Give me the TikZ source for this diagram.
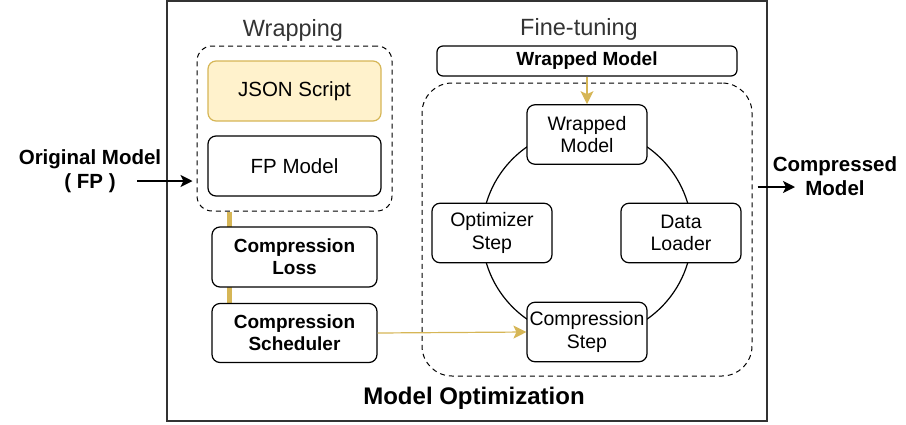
\documentclass[tikz,border=0pt]{standalone}
\usepackage{fontspec}
\setmainfont{Liberation Sans}
\usetikzlibrary{arrows.meta}
\definecolor{goldline}{HTML}{D6B656}
\definecolor{goldfill}{HTML}{FFF2CC}
\definecolor{labelgray}{HTML}{333333}

\begin{document}
\begin{tikzpicture} [
    x=1pt, y=-1pt,
    block/.style    = { rectangle, draw, line width=1.2pt, rounded corners=8pt,
                        fill=white, align=center, inner sep=0pt,
                        font=\fontsize{20.5}{23.5}\selectfont },
    boldblock/.style = { block, font=\bfseries\fontsize{19}{22}\selectfont },
    stepblock/.style = { block, minimum width=120pt, minimum height=59.5pt,
                        font=\fontsize{19.5}{22.5}\selectfont },
    group/.style    = { rectangle, draw, line width=1pt, dash pattern=on 5pt off 4pt },
    title/.style    = { text=labelgray, font=\fontsize{23.5}{26}\selectfont },
    outlabel/.style = { align=center, font=\bfseries\fontsize{20.5}{23.5}\selectfont },
    line/.style     = { draw, line width=1.2pt, -{Stealth[length=12pt,width=12pt,inset=3pt]} },
    goldarrow/.style = { draw=goldline, line width=1.2pt,
                        -{Stealth[length=13pt,width=13pt,inset=3pt]} },
  ]
  \useasboundingbox (0,0) rectangle (906,424);

  % outer frame
  \draw[line width=1.2pt, draw=black!80] (167,1) rectangle (767,421);
  \node[font=\bfseries\fontsize{24}{27}\selectfont] (optim) at (474,398) {Model Optimization};

  % Define nodes: wrapping
  \node[title] (wraptitle) at (293,30) {Wrapping};
  \node[group, rounded corners=15pt, minimum width=195pt, minimum height=165pt] (wrap) at (294.5,128.5) {};
  \node[block, draw=goldline, fill=goldfill, minimum width=173pt, minimum height=60pt] (json) at (294.5,91) {JSON Script};
  \node[block, minimum width=173pt, minimum height=60pt] (fp) at (294.5,166) {FP Model};

  % gold bar behind the compression blocks
  \draw[goldline, line width=5pt] ([xshift=17pt]wrap.south -| 212,0) -- ([xshift=17pt]212,303);
  \node[boldblock, minimum width=165pt, minimum height=60pt] (loss) at (294.5,257) {Compression\\Loss};
  \node[boldblock, minimum width=165pt, minimum height=59pt] (sched) at (294.5,333) {Compression\\Scheduler};

  % Define nodes: fine-tuning
  \node[title] (tunetitle) at (579,29) {Fine-tuning};
  \node[boldblock, rounded corners=6pt, minimum width=300pt, minimum height=30pt] (wmbar) at (587,61) {Wrapped Model};
  \node[group, rounded corners=30pt, minimum width=330pt, minimum height=293pt] (tune) at (587,229.5) {};
  \node[circle, draw, line width=1.2pt, minimum size=210pt] (loop) at (587,233) {};
  \node[stepblock] (wmodel) at (587,134.5) {Wrapped\\Model};
  \node[stepblock] (ostep) at (492,233) {Optimizer\\Step};
  \node[stepblock] (loader) at (681,233) {Data\\Loader};
  \node[stepblock] (cstep) at (587,332) {Compression\\Step};

  % in and out
  \node[outlabel] (orig) at (90,171) {Original Model\\( FP )};
  \coordinate (origout) at (137,181);
  \node[outlabel] (comp) at (835,176) {Compressed\\Model};
  \coordinate (compin) at (795,187);

  % connect the nodes
  \path [line, shorten >=4pt] (origout) -- (wrap.west |- origout);
  \path [line, shorten <=5pt] (tune.east |- compin) -- (compin);
  \path [goldarrow] (wmbar.south) -- (wmodel.north);
  \path [goldarrow] (sched.east) -- (cstep.west);
\end{tikzpicture}
\end{document}
